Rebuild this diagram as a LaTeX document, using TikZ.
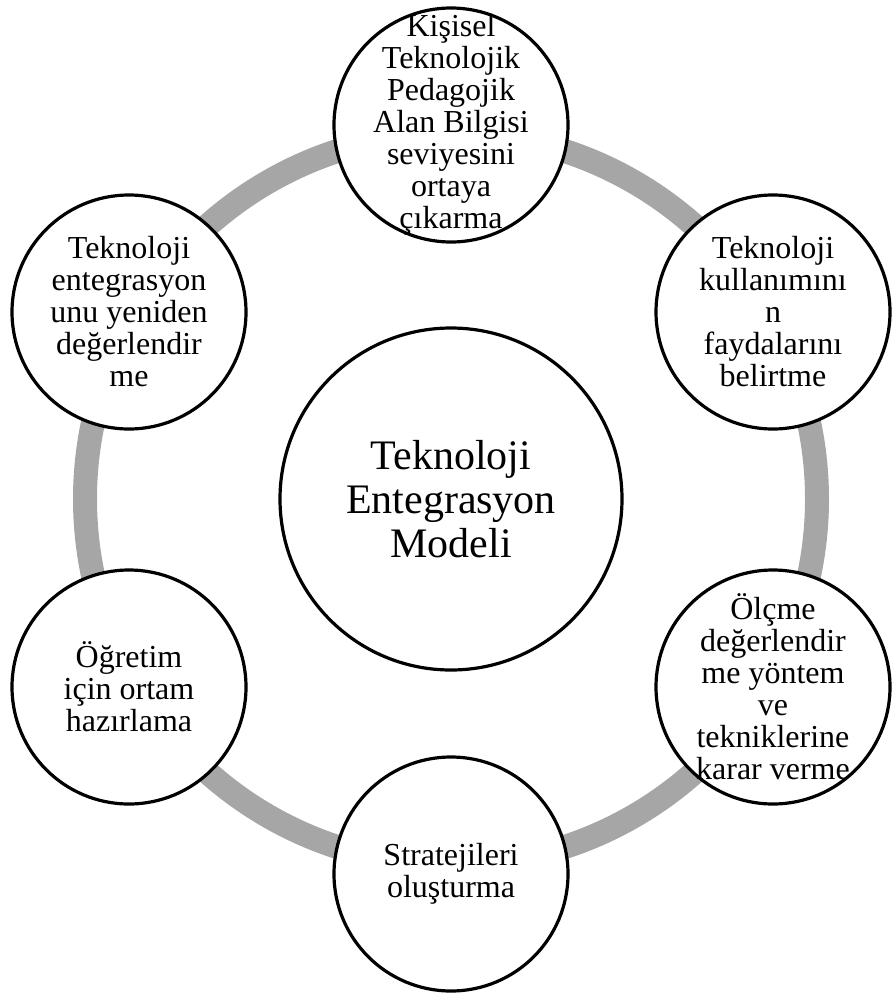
\documentclass[tikz,border=0pt]{standalone}
\usepackage{fontspec}
\setmainfont{Liberation Serif}
\definecolor{ringgray}{RGB}{166,166,166}
\begin{document}
\begin{tikzpicture}[x=1pt,y=-1pt,
  stage/.style={circle, draw=black, line width=3.2pt, fill=white,
    minimum size=234pt, inner sep=0pt},
  stagetext/.style={align=center, inner sep=0pt,
    font=\fontsize{32}{32}\selectfont},
  hub/.style={circle, draw=black, line width=3.2pt, fill=white,
    minimum size=342pt, inner sep=0pt},
  hubtext/.style={align=center, inner sep=0pt,
    font=\fontsize{42}{44}\selectfont},
  ring/.style={line width=24pt, draw=ringgray}]
\useasboundingbox (0,0) rectangle (893,996);

% cycle band behind the stages
\coordinate (c) at (451,499);
\draw[ring] (c) circle[radius=366pt];

% central model
\node[hub] (hub) at (c) {};
\node[hubtext] (hubt) at (hub) {Teknoloji\\Entegrasyon\\Modeli};

% six stages around the cycle
\node[stage] (s1) at (451,125) {};
\node[stage] (s2) at (773,312) {};
\node[stage] (s3) at (773,687) {};
\node[stage] (s4) at (451,874) {};
\node[stage] (s5) at (129,687) {};
\node[stage] (s6) at (129,312) {};

\node[stagetext] (s1t) at (s1) {Kişisel\\Teknolojik\\Pedagojik\\Alan Bilgisi\\seviyesini\\ortaya\\çıkarma};
\node[stagetext] (s2t) at (s2) {Teknoloji\\kullanımını\\n\\faydalarını\\belirtme};
\node[stagetext] (s3t) at (s3) {Ölçme\\değerlendir\\me yöntem\\ve\\tekniklerine\\karar verme};
\node[stagetext] (s4t) at (s4) {Stratejileri\\oluşturma};
\node[stagetext] (s5t) at (s5) {Öğretim\\için ortam\\hazırlama};
\node[stagetext] (s6t) at (s6) {Teknoloji\\entegrasyon\\unu yeniden\\değerlendir\\me};
\end{tikzpicture}
\end{document}
